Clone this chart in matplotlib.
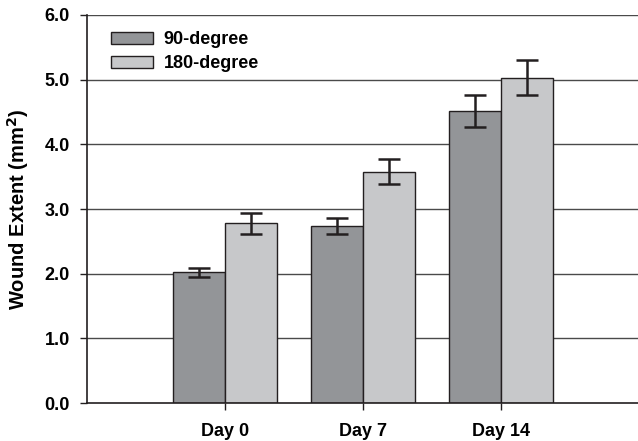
import matplotlib
matplotlib.use('Agg')
import matplotlib.pyplot as plt
import numpy as np

plt.rcParams['font.family'] = ['Liberation Sans', 'DejaVu Sans']
plt.rcParams['font.weight'] = 'bold'

### data
days = ['Day 0', 'Day 7', 'Day 14']
deg90 = [2.02, 2.74, 4.52]
deg90_err = [0.07, 0.12, 0.25]
deg180 = [2.78, 3.58, 5.03]
deg180_err = [0.16, 0.20, 0.27]

x = np.arange(len(days))
w = 0.377

fig = plt.figure(figsize=(6.38, 4.41), dpi=100)
ax = fig.add_axes([0.136, 0.086, 0.864, 0.880])

for v in [1, 2, 3, 4, 5, 6]:
    ax.axhline(v, color='#4a4a4a', lw=1.0, zorder=0)

ekw = dict(ecolor='#231f20', elinewidth=1.8, capsize=8, capthick=1.8)
ax.bar(x - w/2, deg90, w, yerr=deg90_err, color='#939598', edgecolor='#231f20',
       linewidth=1.0, label='90-degree', error_kw=ekw, zorder=2)
ax.bar(x + w/2, deg180, w, yerr=deg180_err, color='#c7c8ca', edgecolor='#231f20',
       linewidth=1.0, label='180-degree', error_kw=ekw, zorder=2)

ax.set_xlim(-1.0, 2.99)
ax.set_ylim(0, 6.0)
ax.set_yticks([0, 1, 2, 3, 4, 5, 6])
ax.set_yticklabels(['%.1f' % v for v in range(7)])
ax.set_xticks(x)
ax.set_xticklabels(days)
ax.tick_params(axis='both', labelsize=13, color='#231f20', length=5, width=1.0)
ax.tick_params(axis='x', pad=9)
ax.tick_params(axis='y', pad=7)
for s in ['top', 'right']:
    ax.spines[s].set_visible(False)
for s in ['left', 'bottom']:
    ax.spines[s].set_color('#231f20')
    ax.spines[s].set_linewidth(1.2)

ax.set_ylabel('Wound Extent (mm$^\\mathbf{2}$)', fontsize=14.5, fontweight='bold', labelpad=10)

leg = ax.legend(loc='upper left', frameon=False, fontsize=13, handlelength=2.3,
                handleheight=0.67, bbox_to_anchor=(0.015, 1.0), labelspacing=0.4,
                handletextpad=0.6)

plt.savefig('out.png', dpi=100)
